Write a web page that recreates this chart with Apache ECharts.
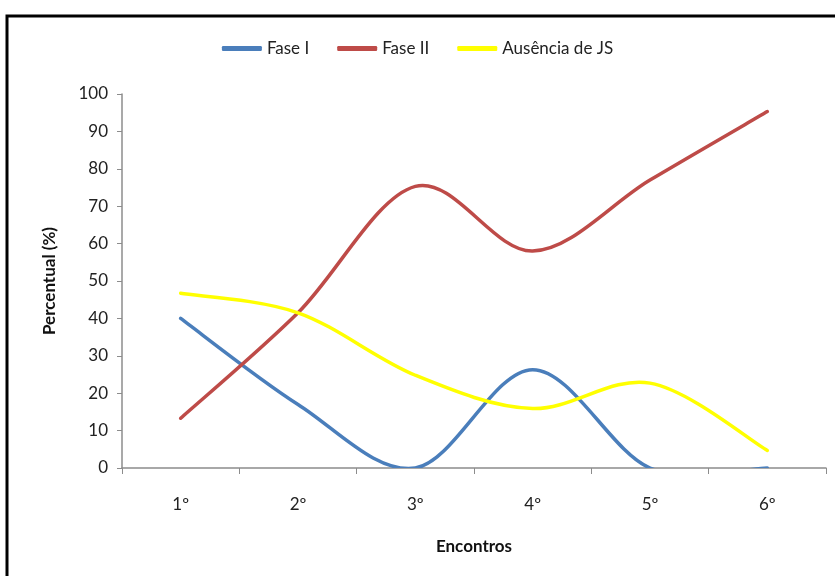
<!DOCTYPE html>
<html>
<head>
<meta charset="utf-8">
<script src="https://cdn.jsdelivr.net/npm/echarts@6/dist/echarts.min.js"></script>
<style>
  html, body { margin: 0; padding: 0; background: #fff; }
  #chart { width: 835px; height: 576px; }
</style>
</head>
<body>
<div id="chart"></div>
<script>
// Encounters on the x axis
const encontros = ['1º', '2º', '3º', '4º', '5º', '6º'];

// Percent of each group per encounter
const faseI = [40, 17, 0, 26.3, 0, 0];
const faseII = [13.3, 41.5, 75.3, 58, 77, 95.3];
const ausenciaJS = [46.7, 41.5, 24.8, 15.9, 22.7, 4.7];

const seriesNames = ['Fase I', 'Fase II', 'Ausência de JS'];
const seriesColors = ['#4a7ebb', '#be4b48', '#ffff00'];

const fontFamily = 'Lato, "Open Sans", sans-serif';

const chart = echarts.init(document.getElementById('chart'), null, { renderer: 'canvas' });

// Catmull-Rom style smoothed path through the data points, mapped with the axes
function smoothLineSeries(name, values, color) {
  return {
    name: name,
    type: 'custom',
    data: values.map(function (v, i) { return [i, v]; }),
    encode: { x: 0, y: 1 },
    itemStyle: { color: color },
    renderItem: function (params, api) {
      if (params.dataIndex !== 0) return null;
      const pts = values.map(function (v, i) { return api.coord([i, v]); });
      let d = 'M' + pts[0][0] + ' ' + pts[0][1];
      for (let i = 0; i < pts.length - 1; i++) {
        const p0 = pts[Math.max(i - 1, 0)];
        const p1 = pts[i];
        const p2 = pts[i + 1];
        const p3 = pts[Math.min(i + 2, pts.length - 1)];
        const c1x = p1[0] + (p2[0] - p0[0]) / 6;
        const c1y = p1[1] + (p2[1] - p0[1]) / 6;
        const c2x = p2[0] - (p3[0] - p1[0]) / 6;
        const c2y = p2[1] - (p3[1] - p1[1]) / 6;
        d += ' C' + c1x + ' ' + c1y + ' ' + c2x + ' ' + c2y + ' ' + p2[0] + ' ' + p2[1];
      }
      const cs = params.coordSys;
      return {
        type: 'group',
        clipPath: { type: 'rect', shape: { x: cs.x - 10, y: cs.y - 10, width: cs.width + 20, height: cs.height + 10 } },
        children: [{
          type: 'path',
          shape: { pathData: d },
          style: { fill: 'none', stroke: color, lineWidth: 3.5, lineCap: 'round', lineJoin: 'round' }
        }]
      };
    }
  };
}

chart.setOption({
  animation: false,
  backgroundColor: '#fff',
  graphic: [{
    type: 'rect',
    shape: { x: 7, y: 16, width: 860, height: 620 },
    style: { fill: 'none', stroke: '#000', lineWidth: 3 },
    silent: true,
    z: 10
  }],
  legend: {
    top: 35,
    left: 'center',
    itemWidth: 40,
    itemHeight: 5,
    itemGap: 28,
    icon: 'roundRect',
    textStyle: { fontFamily: fontFamily, fontSize: 17, color: '#222', padding: [0, 0, 0, 0] },
    data: seriesNames
  },
  grid: { left: 122, right: 9, top: 94, bottom: 108, containLabel: false },
  xAxis: {
    type: 'category',
    data: encontros,
    boundaryGap: true,
    name: 'Encontros',
    nameLocation: 'middle',
    nameGap: 70,
    nameTextStyle: { fontFamily: fontFamily, fontSize: 17, fontWeight: 'bold', color: '#111' },
    axisLine: { lineStyle: { color: '#8c8c8c', width: 1.5 } },
    axisTick: { show: true, length: 6, alignWithLabel: false, lineStyle: { color: '#8c8c8c' } },
    axisLabel: { fontFamily: fontFamily, fontSize: 17, color: '#222', margin: 28 },
    splitLine: { show: false }
  },
  yAxis: {
    type: 'value',
    min: 0,
    max: 100,
    interval: 10,
    name: 'Percentual (%)',
    nameLocation: 'middle',
    nameGap: 64,
    nameRotate: 90,
    nameTextStyle: { fontFamily: fontFamily, fontSize: 17, fontWeight: 'bold', color: '#111' },
    axisLine: { show: true, lineStyle: { color: '#8c8c8c', width: 1.5 } },
    axisTick: { show: true, length: 5, lineStyle: { color: '#8c8c8c' } },
    axisLabel: { fontFamily: fontFamily, fontSize: 17, color: '#222', margin: 14 },
    splitLine: { show: false }
  },
  series: [
    smoothLineSeries(seriesNames[0], faseI, seriesColors[0]),
    smoothLineSeries(seriesNames[1], faseII, seriesColors[1]),
    smoothLineSeries(seriesNames[2], ausenciaJS, seriesColors[2])
  ]
});
</script>
</body>
</html>
